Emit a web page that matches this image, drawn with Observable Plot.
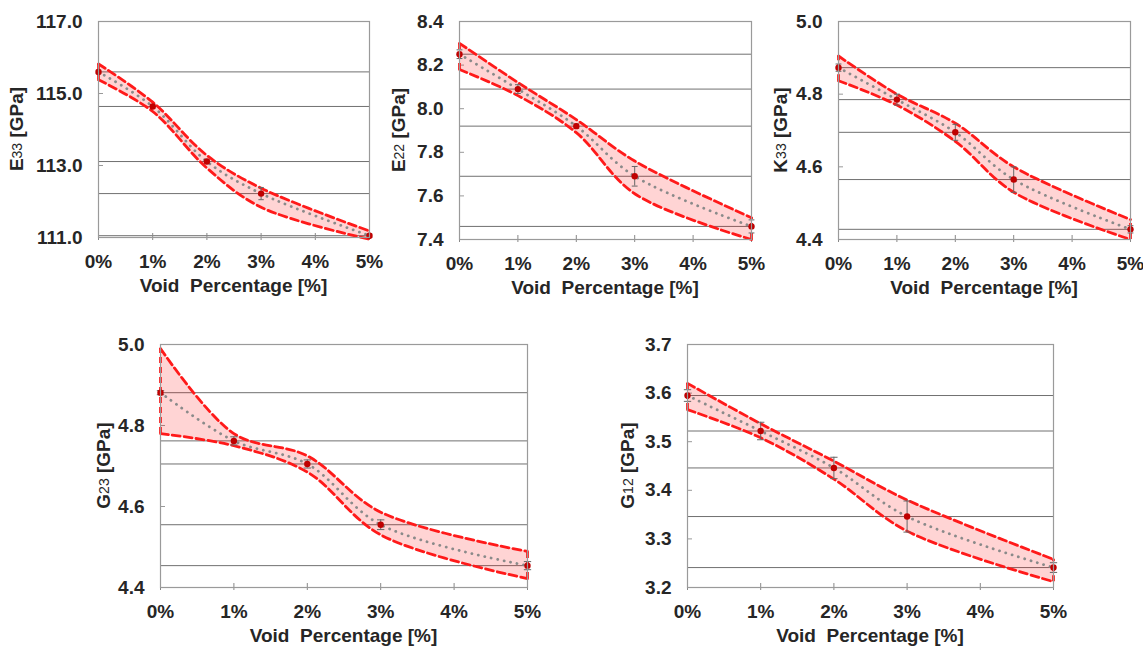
<!DOCTYPE html>
<html><head><meta charset="utf-8">
<script src="https://cdn.jsdelivr.net/npm/d3@7"></script>
<script src="https://cdn.jsdelivr.net/npm/@observablehq/plot@0.6"></script>
<style>
body{margin:0;background:#fff;}
#root{position:relative;width:1143px;height:647px;overflow:hidden;font-family:"Liberation Sans",Arial,sans-serif;}
#root svg{position:absolute;overflow:visible;}
</style></head><body><div id="root"></div>
<script>
// ---- data ----
const voids = [0, 1, 2, 3, 5];           // void percentage [%]
const xTicks = [0, 1, 2, 3, 4, 5];
const xTitle = "Void  Percentage [%]";

const E33_mean  = [115.60, 114.64, 113.11, 112.22, 111.05];
const E33_upper = [115.82, 114.76, 113.28, 112.37, 111.18];
const E33_lower = [115.38, 114.50, 112.93, 111.84, 110.95];
const E33_err   = [0.05, 0.05, 0.06, 0.17, 0.05];
const E33_ticks = [111, 113, 115, 117];

const E22_mean  = [8.25, 8.09, 7.92, 7.69, 7.46];
const E22_upper = [8.30, 8.12, 7.95, 7.76, 7.50];
const E22_lower = [8.18, 8.06, 7.89, 7.61, 7.40];
const E22_err   = [0.02, 0.02, 0.01, 0.045, 0.03];
const E22_ticks = [7.4, 7.6, 7.8, 8.0, 8.2, 8.4];

const K33_mean  = [4.873, 4.785, 4.695, 4.565, 4.428];
const K33_upper = [4.905, 4.800, 4.720, 4.600, 4.455];
const K33_lower = [4.837, 4.770, 4.670, 4.530, 4.400];
const K33_err   = [0.01, 0.015, 0.022, 0.035, 0.01];
const K33_ticks = [4.4, 4.6, 4.8, 5.0];

const G23_mean  = [4.881, 4.762, 4.705, 4.555, 4.454];
const G23_upper = [4.990, 4.780, 4.725, 4.586, 4.489];
const G23_lower = [4.780, 4.750, 4.685, 4.530, 4.422];
const G23_err   = [0.005, 0.01, 0.01, 0.012, 0.01];
const G23_ticks = [4.4, 4.6, 4.8, 5.0];

const G12_mean  = [3.595, 3.522, 3.446, 3.346, 3.241];
const G12_upper = [3.620, 3.537, 3.460, 3.380, 3.258];
const G12_lower = [3.566, 3.508, 3.423, 3.316, 3.212];
const G12_err   = [0.012, 0.018, 0.022, 0.032, 0.01];
const G12_ticks = [3.2, 3.3, 3.4, 3.5, 3.6, 3.7];

const yLetters = ["E", "E", "K", "G", "G"];
const ySubs    = ["33", "22", "33", "23", "12"];
const yUnit    = " [GPa]";

// ---- layout (positions only) ----
const layout = [
  {left: 0,   top: 0,   width: 380, height: 300, mL: 98,  mR: 11, mT: 21, mB: 63, labelX: 18},
  {left: 380, top: 0,   width: 380, height: 300, mL: 79,  mR: 9,  mT: 21, mB: 61, labelX: 20},
  {left: 760, top: 0,   width: 383, height: 300, mL: 78,  mR: 13, mT: 21, mB: 61, labelX: 22},
  {left: 60,  top: 320, width: 480, height: 327, mL: 100, mR: 13, mT: 24, mB: 60, labelX: 45},
  {left: 580, top: 320, width: 563, height: 327, mL: 107, mR: 90, mT: 24, mB: 60, labelX: 49}
];

const series = [
  [E33_mean, E33_upper, E33_lower, E33_err, E33_ticks],
  [E22_mean, E22_upper, E22_lower, E22_err, E22_ticks],
  [K33_mean, K33_upper, K33_lower, K33_err, K33_ticks],
  [G23_mean, G23_upper, G23_lower, G23_err, G23_ticks],
  [G12_mean, G12_upper, G12_lower, G12_err, G12_ticks]
];

const root = document.getElementById("root");
const red = "#ff1a1a";

series.forEach(([mean, upper, lower, err, ticks], i) => {
  const L = layout[i];
  const data = voids.map((x, j) => ({x, mean: mean[j], upper: upper[j], lower: lower[j], err: err[j]}));
  const ends = [data[0], data[data.length - 1]];
  const innerW = L.width - L.mL - L.mR;
  const innerH = L.height - L.mT - L.mB;
  const cap = 0.05;

  const svg = Plot.plot({
    width: L.width, height: L.height,
    marginLeft: L.mL, marginRight: L.mR, marginTop: L.mT, marginBottom: L.mB,
    style: {fontFamily: "'Liberation Sans', Arial, sans-serif", fontSize: "19px", fontWeight: "bold", color: "#262626", background: "transparent", overflow: "visible"},
    x: {domain: [0, 5], ticks: xTicks, tickFormat: d => d + "%", tickSize: 0, tickPadding: 17, label: null},
    y: {domain: [ticks[0], ticks[ticks.length - 1]], ticks: ticks, tickFormat: d3.format(".1f"), tickSize: 0, tickPadding: 16, label: null},
    marks: [
      Plot.ruleY(data, {y: "mean", stroke: "#707070", strokeWidth: 1}),
      Plot.ruleY(ticks, {y: d => d, stroke: "#999", strokeWidth: 1, insetRight: innerW - 5}),
      Plot.ruleX(xTicks, {x: d => d, stroke: "#888", strokeWidth: 1, insetTop: innerH - 4, insetBottom: -3}),
      Plot.areaY(data, {x: "x", y1: "lower", y2: "upper", fill: "#ff0000", fillOpacity: 0.17, curve: "catmull-rom"}),
      Plot.line(data, {x: "x", y: "upper", stroke: red, strokeWidth: 2.8, strokeDasharray: "8,4", curve: "catmull-rom"}),
      Plot.line(data, {x: "x", y: "lower", stroke: red, strokeWidth: 2.8, strokeDasharray: "8,4", curve: "catmull-rom"}),
      Plot.ruleX(ends, {x: "x", y1: "lower", y2: "upper", stroke: red, strokeWidth: 2.8, strokeDasharray: "6,4"}),
      Plot.line(data, {x: "x", y: "mean", stroke: "#8a8a8a", strokeWidth: 2.8, strokeDasharray: "0.1,6.5", strokeLinecap: "round", curve: "catmull-rom"}),
      Plot.ruleX(data, {x: "x", y1: d => d.mean - d.err, y2: d => d.mean + d.err, stroke: "#666", strokeWidth: 1}),
      Plot.link(data, {x1: d => d.x - cap, x2: d => d.x + cap, y1: d => d.mean + d.err, y2: d => d.mean + d.err, stroke: "#666", strokeWidth: 1}),
      Plot.link(data, {x1: d => d.x - cap, x2: d => d.x + cap, y1: d => d.mean - d.err, y2: d => d.mean - d.err, stroke: "#666", strokeWidth: 1}),
      Plot.dot(data, {x: "x", y: "mean", r: 3.2, fill: "#c00000", stroke: "none"}),
      Plot.frame({stroke: "#9a9a9a", strokeWidth: 1.2})
    ]
  });
  svg.style.left = L.left + "px";
  svg.style.top = L.top + "px";
  root.appendChild(svg);

  const s = d3.select(svg);
  // x axis title
  s.append("text")
    .attr("x", L.mL + innerW / 2)
    .attr("y", L.mT + innerH + 50)
    .attr("text-anchor", "middle")
    .attr("dominant-baseline", "middle")
    .attr("fill", "#262626")
    .style("font-size", "19px").style("font-weight", "bold").style("white-space", "pre")
    .text(xTitle);
  // y axis title with subscript
  const t = s.append("text")
    .attr("transform", `translate(${L.labelX},${L.mT + innerH / 2}) rotate(-90)`)
    .attr("text-anchor", "middle")
    .attr("dominant-baseline", "middle")
    .attr("fill", "#262626")
    .style("font-size", "19px").style("font-weight", "bold").style("white-space", "pre");
  t.append("tspan").text(yLetters[i]);
  t.append("tspan").style("font-size", "14px").style("font-weight", "normal").text(ySubs[i]);
  t.append("tspan").text(yUnit);
});
</script>
</body></html>
